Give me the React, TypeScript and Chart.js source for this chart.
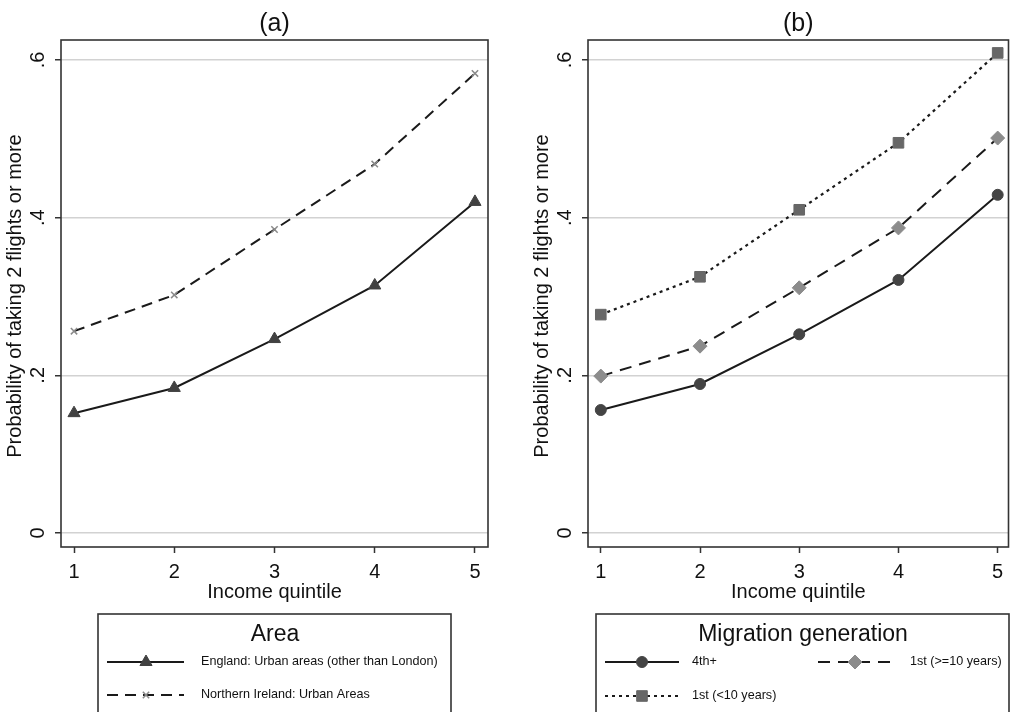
import React, { useEffect, useRef } from 'react';
import { Chart, registerables } from 'chart.js';
import { drawPoint } from 'chart.js/helpers';

Chart.register(...registerables);

// ---------- data ----------
const quintiles = [1, 2, 3, 4, 5];
const xTickLabels = ['1', '2', '3', '4', '5'];
const yTickValues = [0, 0.2, 0.4, 0.6];
const yTickLabels = ['0', '.2', '.4', '.6'];

const englandUrban = [0.152, 0.184, 0.246, 0.314, 0.42];
const niUrban = [0.256, 0.302, 0.385, 0.468, 0.583];

const gen4th = [0.156, 0.189, 0.252, 0.321, 0.429];
const gen1stLong = [0.199, 0.237, 0.311, 0.387, 0.501];
const gen1stShort = [0.277, 0.325, 0.41, 0.495, 0.609];

const panelTitles = ['(a)', '(b)'];
const yTitle = 'Probability of taking 2 flights or more';
const xTitle = 'Income quintile';
const legendTitles = ['Area', 'Migration generation'];
const areaLabels = ['England: Urban areas (other than London)', 'Northern Ireland: Urban Areas'];
const genLabels = ['4th+', '1st (>=10 years)', '1st (<10 years)'];

const FONT = '"Liberation Sans", Arial, Helvetica, sans-serif';

const pts = (vals: number[]) => quintiles.map((q, i) => ({ x: q, y: vals[i] }));

// ---------- decoration plugin ----------
const decorPlugin = {
  id: 'decor',
  afterDraw(chart: any, _args: any, opts: any) {
    const { ctx, chartArea: ca, scales } = chart;
    const ys = scales.y;
    const off = opts.offsetX || 0;
    ctx.save();
    // frame
    ctx.strokeStyle = '#333';
    ctx.lineWidth = 1.6;
    ctx.strokeRect(ca.left, ca.top, ca.right - ca.left, ca.bottom - ca.top);

    ctx.fillStyle = '#111';
    ctx.textAlign = 'center';
    ctx.textBaseline = 'middle';
    // rotated y tick labels
    ctx.font = `20px ${FONT}`;
    yTickValues.forEach((v, i) => {
      const py = ys.getPixelForValue(v);
      ctx.save();
      ctx.translate(ca.left - 23, py);
      ctx.rotate(-Math.PI / 2);
      ctx.fillText(yTickLabels[i], 0, 0);
      ctx.restore();
    });
    // y title
    ctx.save();
    ctx.translate(ca.left - 46, 296);
    ctx.rotate(-Math.PI / 2);
    ctx.font = `20px ${FONT}`;
    ctx.fillText(yTitle, 0, 0);
    ctx.restore();
    // x title
    const cx = (ca.left + ca.right) / 2;
    ctx.font = `20px ${FONT}`;
    ctx.fillText(xTitle, cx, 592);
    // panel title
    ctx.font = `25px ${FONT}`;
    ctx.fillText(opts.title, cx, 24);

    // legend
    const lg = opts.legend;
    ctx.strokeStyle = '#333';
    ctx.lineWidth = 1.6;
    ctx.strokeRect(lg.box[0] - off, lg.box[1], lg.box[2] - lg.box[0], 200);
    ctx.font = `23px ${FONT}`;
    ctx.fillText(lg.title, lg.titleX - off, 635);
    lg.items.forEach((it: any) => {
      const ds = chart.data.datasets[it.ds];
      ctx.save();
      ctx.strokeStyle = ds.borderColor;
      ctx.lineWidth = ds.borderWidth;
      ctx.setLineDash(ds.borderDash || []);
      ctx.beginPath();
      ctx.moveTo(it.x0 - off, it.y);
      ctx.lineTo(it.x1 - off, it.y);
      ctx.stroke();
      ctx.setLineDash([]);
      ctx.fillStyle = ds.pointBackgroundColor;
      ctx.strokeStyle = ds.pointBorderColor;
      ctx.lineWidth = ds.pointBorderWidth;
      drawPoint(ctx, { pointStyle: ds.pointStyle, radius: ds.pointRadius, rotation: 0, borderWidth: ds.pointBorderWidth }, it.mx - off, it.y);
      ctx.restore();
      ctx.fillStyle = '#111';
      ctx.textAlign = 'left';
      ctx.font = `12.6px ${FONT}`;
      ctx.fillText(ds.label, it.lx - off, it.y);
      ctx.textAlign = 'center';
    });
    ctx.restore();
  },
};

function makeOptions(p: {
  yWidth: number; padRight: number; xMin: number; xMax: number; decor: any;
}) {
  return {
    responsive: false,
    animation: false as const,
    layout: { padding: { left: 0, right: p.padRight, top: 40, bottom: 0 } },
    plugins: {
      legend: { display: false },
      title: { display: false },
      tooltip: { enabled: false },
      decor: p.decor,
    },
    scales: {
      x: {
        type: 'linear' as const,
        min: p.xMin,
        max: p.xMax,
        afterBuildTicks: (s: any) => {
          s.ticks = quintiles.map((v) => ({ value: v }));
        },
        afterFit: (s: any) => {
          s.height = 165;
        },
        ticks: {
          autoSkip: false,
          maxRotation: 0,
          padding: 7,
          color: '#111',
          font: { family: FONT, size: 20 },
          callback: (v: number) => xTickLabels[quintiles.indexOf(v)] ?? '',
        },
        grid: { drawOnChartArea: false, drawTicks: true, tickLength: 6, tickColor: '#333', tickWidth: 1.5 },
        border: { display: false },
      },
      y: {
        type: 'linear' as const,
        min: -0.0178,
        max: 0.6254,
        afterBuildTicks: (s: any) => {
          s.ticks = yTickValues.map((v) => ({ value: v }));
        },
        afterFit: (s: any) => {
          s.width = p.yWidth;
        },
        ticks: { display: false },
        grid: { color: '#d2d2d2', lineWidth: 1.5, drawTicks: true, tickLength: 6, tickColor: '#333', tickWidth: 1.5 },
        border: { display: false },
      },
    },
  };
}

const leftConfig: any = {
  type: 'line',
  data: {
    datasets: [
      {
        label: areaLabels[0],
        data: pts(englandUrban),
        borderColor: '#1a1a1a',
        borderWidth: 2,
        pointStyle: 'triangle',
        pointRadius: 7,
        pointBackgroundColor: '#414141',
        pointBorderColor: '#414141',
        pointBorderWidth: 1,
        clip: false,
      },
      {
        label: areaLabels[1],
        data: pts(niUrban),
        borderColor: '#1a1a1a',
        borderWidth: 2,
        borderDash: [11, 7],
        pointStyle: 'crossRot',
        pointRadius: 4.5,
        pointBackgroundColor: '#8a8a8a',
        pointBorderColor: '#8a8a8a',
        pointBorderWidth: 1.5,
        clip: false,
      },
    ],
  },
  options: makeOptions({
    yWidth: 61,
    padRight: 20,
    xMin: 0.87,
    xMax: 5.13,
    decor: {
      offsetX: 0,
      title: panelTitles[0],
      legend: {
        box: [98, 614, 451],
        title: legendTitles[0],
        titleX: 275,
        items: [
          { ds: 0, x0: 107, x1: 184, mx: 146, lx: 201, y: 662 },
          { ds: 1, x0: 107, x1: 184, mx: 146, lx: 201, y: 695 },
        ],
      },
    },
  }),
  plugins: [decorPlugin],
};

const rightConfig: any = {
  type: 'line',
  data: {
    datasets: [
      {
        label: genLabels[0],
        data: pts(gen4th),
        borderColor: '#1a1a1a',
        borderWidth: 2,
        pointStyle: 'circle',
        pointRadius: 5.5,
        pointBackgroundColor: '#444',
        pointBorderColor: '#444',
        pointBorderWidth: 1,
        clip: false,
      },
      {
        label: genLabels[1],
        data: pts(gen1stLong),
        borderColor: '#1a1a1a',
        borderWidth: 2,
        borderDash: [12, 8],
        pointStyle: 'rectRot',
        pointRadius: 7,
        pointBackgroundColor: '#8c8c8c',
        pointBorderColor: '#8c8c8c',
        pointBorderWidth: 1,
        clip: false,
      },
      {
        label: genLabels[2],
        data: pts(gen1stShort),
        borderColor: '#1a1a1a',
        borderWidth: 2.2,
        borderDash: [3, 4],
        pointStyle: 'rect',
        pointRadius: 7.5,
        pointBackgroundColor: '#676767',
        pointBorderColor: '#676767',
        pointBorderWidth: 1,
        clip: false,
      },
    ],
  },
  options: makeOptions({
    yWidth: 80,
    padRight: 2,
    xMin: 0.871,
    xMax: 5.109,
    decor: {
      offsetX: 508,
      title: panelTitles[1],
      legend: {
        box: [596, 614, 1009],
        title: legendTitles[1],
        titleX: 803,
        items: [
          { ds: 0, x0: 605, x1: 679, mx: 642, lx: 692, y: 662 },
          { ds: 1, x0: 818, x1: 893, mx: 855, lx: 910, y: 662 },
          { ds: 2, x0: 605, x1: 679, mx: 642, lx: 692, y: 696 },
        ],
      },
    },
  }),
  plugins: [decorPlugin],
};

function Panel({ config, left, width }: { config: any; left: number; width: number }) {
  const ref = useRef<HTMLCanvasElement | null>(null);
  useEffect(() => {
    const chart = new Chart(ref.current as HTMLCanvasElement, config);
    return () => chart.destroy();
  }, [config]);
  return (
    <canvas
      ref={ref}
      width={width}
      height={712}
      style={{ position: 'absolute', left, top: 0, width, height: 712, display: 'block' }}
    />
  );
}

export default function App() {
  return (
    <div style={{ position: 'absolute', left: 0, top: 0, width: 1017, height: 712, overflow: 'hidden', background: '#fff' }}>
      <Panel config={leftConfig} left={0} width={508} />
      <Panel config={rightConfig} left={508} width={509} />
    </div>
  );
}
